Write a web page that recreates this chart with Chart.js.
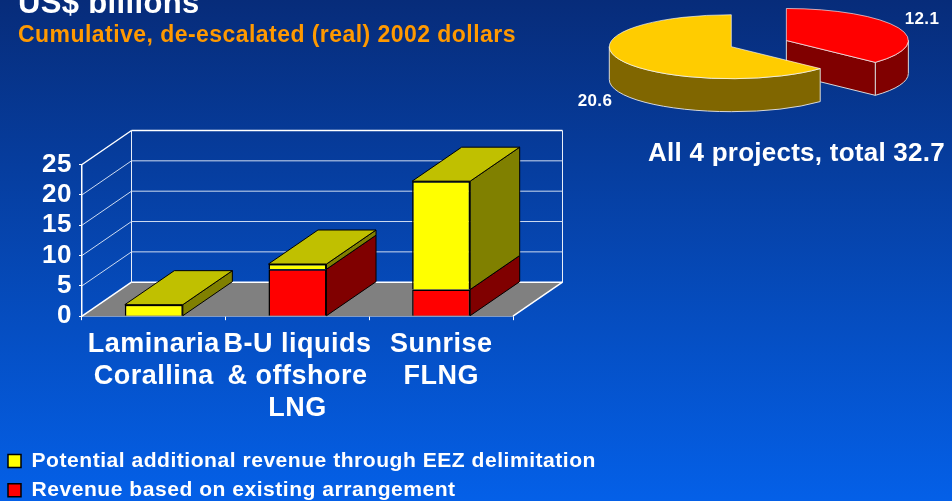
<!DOCTYPE html>
<html>
    <head>
        <meta charset="utf-8">
        <script src="https://cdnjs.cloudflare.com/ajax/libs/Chart.js/4.4.1/chart.umd.min.js"></script>
        <style>
            html, body { margin:0; padding:0; width:952px; height:501px; overflow:hidden; }
            body { background:linear-gradient(#072c7a 0, #0460e8 100%); position:relative; font-family:"Liberation Sans", Arial, sans-serif; font-weight:bold; }
            canvas { position:absolute; left:0; top:0; }
            .txt { position:absolute; white-space:nowrap; line-height:1; }
        </style>
    </head>
    <body>
        <canvas id="barChart" width="952" height="501"></canvas>
        <canvas id="pieChart" width="952" height="501"></canvas>
        <div class="txt" style="left:18px;top:-13px;font-size:31px;letter-spacing:.35px;color:#fff">US$ billions</div>
        <div class="txt" style="left:18px;top:23px;font-size:23px;letter-spacing:.45px;color:#ff9900">Cumulative, de-escalated (real) 2002 dollars</div>
        <div class="txt" style="left:648px;top:139px;font-size:26px;letter-spacing:.25px;color:#fff">All 4 projects, total 32.7</div>
    </body>
    <script>
        // values
        const categories = [['Laminaria','Corallina'],['B-U liquids','& offshore','LNG'],['Sunrise','FLNG']]
        const existing = [0, 7.75, 4.4]
        const additional = [1.9, 0.85, 17.85]
        const yTicks = [0, 5, 10, 15, 20, 25]
        const seriesNames = ['Revenue based on existing arrangement','Potential additional revenue through EEZ delimitation']
        const pieValues = [12.1, 20.6]

        // depth of the fake 3D box, pixels
        const DX = 49.5
        const DY = 34

        const poly = (ctx, pts, fill, stroke, lw) => {
            ctx.beginPath()
            pts.forEach((p, i) => i ? ctx.lineTo(p[0], p[1]) : ctx.moveTo(p[0], p[1]))
            ctx.closePath()
            if (fill) { ctx.fillStyle = fill; ctx.fill() }
            if (stroke) { ctx.strokeStyle = stroke; ctx.lineWidth = lw || 1; ctx.stroke() }
        }
        const line = (ctx, x1, y1, x2, y2, color, lw) => {
            ctx.beginPath()
            ctx.moveTo(x1, y1)
            ctx.lineTo(x2, y2)
            ctx.strokeStyle = color
            ctx.lineWidth = lw
            ctx.stroke()
        }

        // letter spacing gets lost when the canvas is resized
        const spacing = {
            id:'spacing',
            beforeLayout(chart){ chart.ctx.letterSpacing = '0.5px' },
            // the legend clips to its box, which stops at the plot's right padding
            afterLayout(chart){
                chart.legend.right = chart.width
                chart.legend.width = chart.width
            },
            beforeDraw(chart){ chart.ctx.letterSpacing = '0.5px' }
        }

        // floor, walls, side and top faces of the bars
        const box3d = {
            id:'box3d',
            beforeDatasetsDraw(chart){
                const ctx = chart.ctx
                const {left, right} = chart.chartArea
                const y = chart.scales.y
                const y0 = y.getPixelForValue(0)
                const yTop = y.getPixelForValue(25)
                ctx.save()
                poly(ctx, [[left,y0],[right,y0],[right+DX,y0-DY],[left+DX,y0-DY]], '#808080')
                line(ctx, right, y0, right+DX, y0-DY, '#fff', 1.5)
                line(ctx, left+DX, y0-DY, left+DX, yTop-DY, '#e8eef8', 1)
                line(ctx, right+DX, y0-DY, right+DX, yTop-DY, '#e8eef8', 1)
                yTicks.forEach(v => {
                    const p = y.getPixelForValue(v)
                    const strong = v == 0 || v == 25
                    line(ctx, left, p, left+DX, p-DY, strong ? '#fff' : '#cfdcf0', strong ? 1.5 : 1)
                    line(ctx, left+DX, p-DY, right+DX, p-DY, strong ? '#fff' : '#cfdcf0', strong ? 1.5 : 1)
                })
                // side faces, then the top of each stack
                const faces = [['#800000','#c00000'],['#808000','#c0c000']]
                chart.data.labels.forEach((label, i) => {
                    let top = null
                    chart.data.datasets.forEach((ds, d) => {
                        if (!ds.data[i]) return
                        const bar = chart.getDatasetMeta(d).data[i]
                        const xr = bar.x + bar.width / 2
                        poly(ctx, [[xr,bar.y],[xr+DX,bar.y-DY],[xr+DX,bar.base-DY],[xr,bar.base]], faces[d][0], '#000', 1)
                        top = {bar:bar, color:faces[d][1]}
                    })
                    const b = top.bar
                    const xl = b.x - b.width / 2
                    const xr = b.x + b.width / 2
                    poly(ctx, [[xl,b.y],[xr,b.y],[xr+DX,b.y-DY],[xl+DX,b.y-DY]], top.color, '#000', 1)
                })
                ctx.restore()
            }
        }

        new Chart(document.getElementById('barChart'), {
            type:'bar',
            data:{
                labels:categories,
                datasets:[
                    {label:seriesNames[0], data:existing, backgroundColor:'#ff0000', borderColor:'#000', borderWidth:1.5},
                    {label:seriesNames[1], data:additional, backgroundColor:'#ffff00', borderColor:'#000', borderWidth:1.5}
                ]
            },
            options:{
                responsive:false,
                animation:false,
                layout:{padding:{left:0, right:439, top:164.5, bottom:-9.7}},
                datasets:{bar:{barPercentage:0.404, categoryPercentage:1}},
                plugins:{
                    tooltip:{enabled:false},
                    legend:{
                        position:'bottom',
                        align:'start',
                        reverse:true,
                        labels:{boxWidth:13, boxHeight:13, padding:8, color:'#fff', font:{family:'"Liberation Sans"', size:21.1, weight:'bold'}}
                    }
                },
                scales:{
                    x:{
                        stacked:true,
                        afterFit(s){ s.height = 126.3 },
                        border:{color:'#fff', width:1.5},
                        grid:{color:'#fff', drawOnChartArea:false, tickLength:4},
                        ticks:{color:'#fff', padding:8.5, autoSkip:false, maxRotation:0, font:{family:'"Liberation Sans"', size:27, weight:'bold', lineHeight:1.19}}
                    },
                    y:{
                        stacked:true,
                        min:0,
                        max:25,
                        afterFit(s){ s.width = 82 },
                        afterBuildTicks(s){ s.ticks = yTicks.map(v => ({value:v})) },
                        border:{color:'#fff', width:1.5},
                        grid:{color:'#fff', drawOnChartArea:false, tickLength:3},
                        ticks:{color:'#fff', padding:7, autoSkip:false, font:{family:'"Liberation Sans"', size:26, weight:'bold'}}
                    }
                }
            },
            plugins:[spacing, box3d]
        })

        // pie is squashed by a transform around its centre, rim goes underneath
        const SQUASH = 0.262
        const RIM = 33
        const EXPLODE = 60
        const rimColors = ['#800000','#806600']
        const EDGE = '#d8d8d8'

        const pie3d = {
            id:'pie3d',
            afterDatasetsUpdate(chart){
                const red = chart.getDatasetMeta(0).data[0]
                const half = (red.startAngle + red.endAngle) / 2
                red.x += Math.cos(half) * EXPLODE
                red.y += Math.sin(half) * EXPLODE
            },
            beforeDatasetsDraw(chart){
                const ctx = chart.ctx
                const arcs = chart.getDatasetMeta(0).data
                const cx = chart.chartArea.left + chart.chartArea.width / 2
                const cy = chart.chartArea.top + chart.chartArea.height / 2
                const sy = v => cy + (v - cy) * SQUASH
                arcs.forEach((a, i) => {
                    const from = Math.max(a.startAngle, 0)
                    const to = Math.min(a.endAngle, Math.PI)
                    const r = a.outerRadius
                    const ax = a.x
                    const ay = sy(a.y)
                    ctx.beginPath()
                    ctx.ellipse(ax, ay, r, r * SQUASH, 0, from, to)
                    ctx.ellipse(ax, ay + RIM, r, r * SQUASH, 0, to, from, true)
                    ctx.closePath()
                    ctx.fillStyle = rimColors[i]
                    ctx.fill()
                    ctx.strokeStyle = EDGE
                    ctx.lineWidth = 1
                    ctx.stroke()
                    // cut face of the pulled out slice
                    if (i == 0) {
                        const ex = ax + Math.cos(a.endAngle) * r
                        const ey = ay + Math.sin(a.endAngle) * r * SQUASH
                        poly(ctx, [[ax,ay],[ex,ey],[ex,ey+RIM],[ax,ay+RIM]], rimColors[i], EDGE, 1)
                    }
                })
                ctx.save()
                ctx.translate(cx, cy)
                ctx.scale(1, SQUASH)
                ctx.translate(-cx, -cy)
            },
            afterDatasetsDraw(chart){
                const ctx = chart.ctx
                ctx.restore()
                ctx.save()
                ctx.fillStyle = '#fff'
                ctx.font = 'bold 17px "Liberation Sans"'
                ctx.textAlign = 'center'
                ctx.textBaseline = 'middle'
                ctx.letterSpacing = '0.3px'
                ctx.fillText(pieValues[0].toFixed(1), 922, 19)
                ctx.fillText(pieValues[1].toFixed(1), 595, 101)
                ctx.restore()
            }
        }

        new Chart(document.getElementById('pieChart'), {
            type:'pie',
            data:{
                labels:['Existing','Additional'],
                datasets:[{data:pieValues, backgroundColor:['#ff0000','#ffcc00'], borderColor:'#ffffff', borderWidth:1, radius:122}]
            },
            options:{
                responsive:false,
                animation:false,
                layout:{padding:{left:510.6, right:0, top:0, bottom:407.6}},
                plugins:{legend:{display:false}, tooltip:{enabled:false}}
            },
            plugins:[pie3d]
        })
    </script>
</html>
